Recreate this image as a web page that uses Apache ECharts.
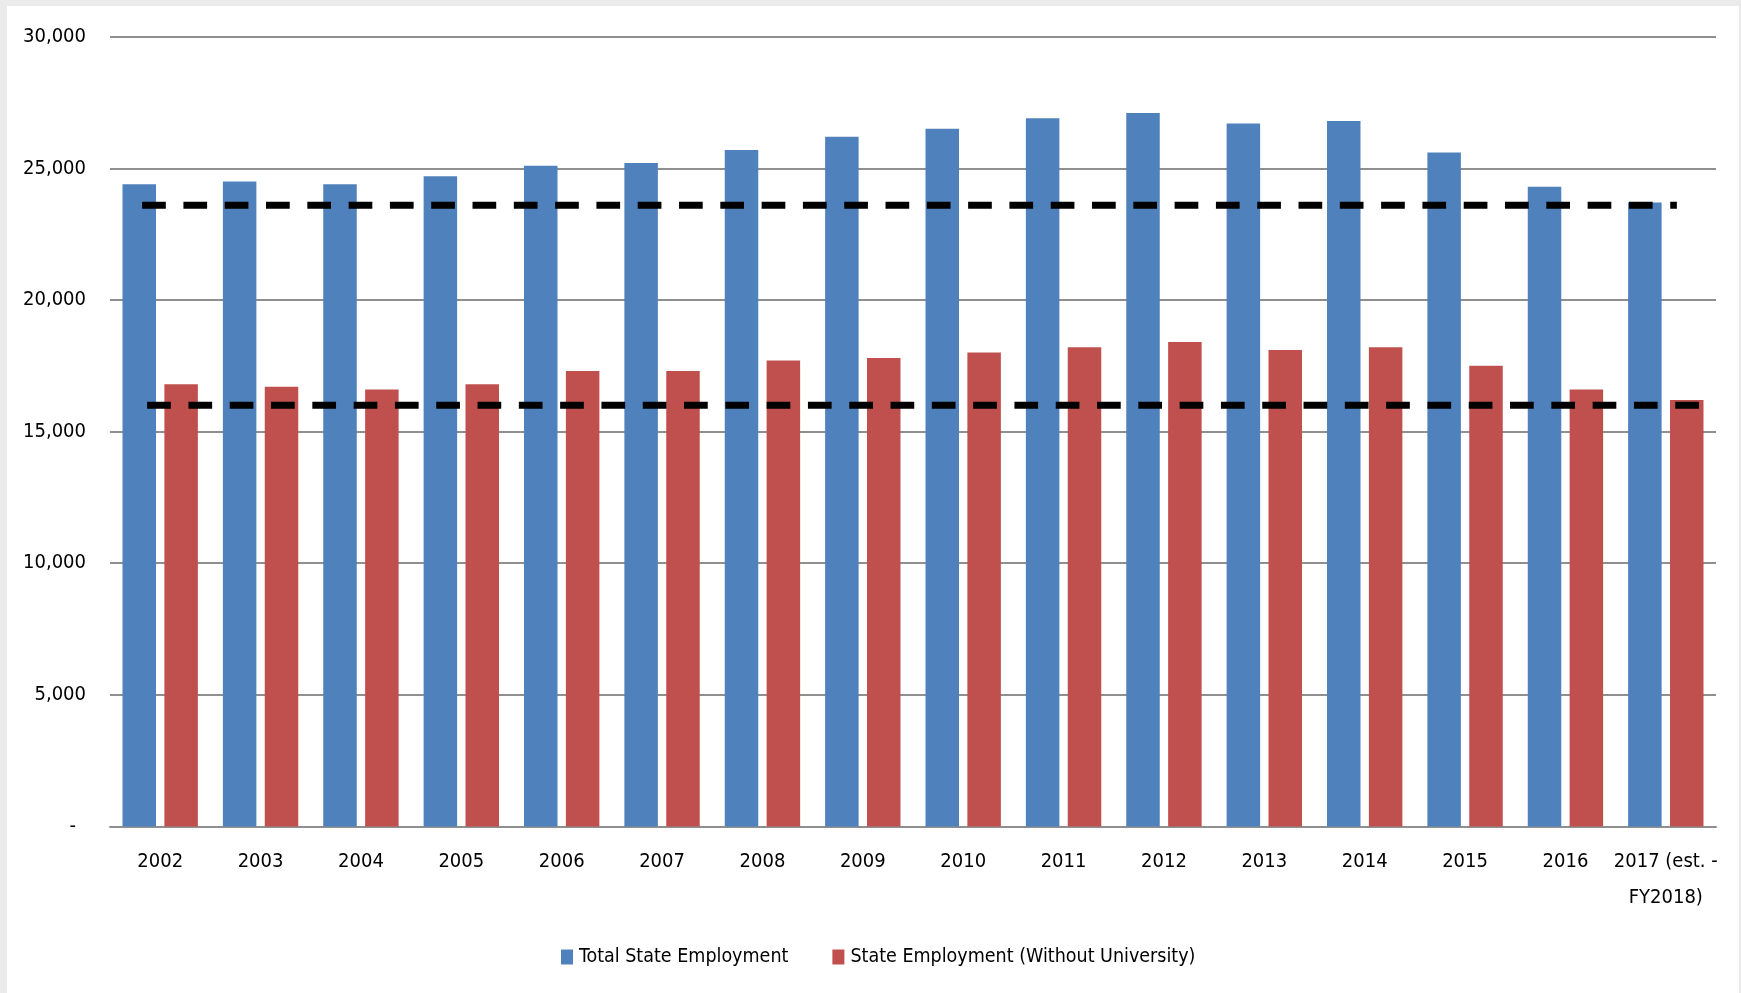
<!DOCTYPE html>
<html>
<head>
<meta charset="utf-8">
<script src="https://cdn.jsdelivr.net/npm/echarts@6/dist/echarts.min.js"></script>
<style>
  html, body { margin: 0; padding: 0; background: #ebebeb; }
  #chart { position: absolute; left: 7px; top: 6px; width: 1732px; height: 987px; background: #fff; }
</style>
</head>
<body>
<div id="chart"></div>
<script>
const years = [
  "2002", "2003", "2004", "2005", "2006", "2007", "2008", "2009",
  "2010", "2011", "2012", "2013", "2014", "2015", "2016", "2017 (est. -\nFY2018)",
];
const totalEmployment = [
  24400, 24500, 24400, 24700, 25100, 25200, 25700, 26200,
  26500, 26900, 27100, 26700, 26800, 25600, 24300, 23700,
];
const withoutUniversity = [
  16800, 16700, 16600, 16800, 17300, 17300, 17700, 17800,
  18000, 18200, 18400, 18100, 18200, 17500, 16600, 16200,
];
const seriesNames = ["Total State Employment", "State Employment (Without University)"];

// dashed reference levels, span given in category-index units
const totalAvg = 23600;
const totalAvgSpan = [-0.18, 15.11];
const withoutAvg = 16000;
const withoutAvgSpan = [-0.13, 15.33];

const yMin = 0;
const yMax = 30000;
const yStep = 5000;

const font = '"Liberation Sans Narrow", "DejaVu Sans Condensed", sans-serif';
const fontSize = 20;
const gridColor = "#8f8f8f";

const fmt = (v) => (v === 0 ? "{z|-}" : v.toLocaleString("en-US"));

const dashLine = (level, span) => ({
  type: "line",
  xAxisIndex: 1,
  data: [[span[0], level], [span[1], level]],
  symbol: "none",
  silent: true,
  z: 5,
  lineStyle: { color: "#000", width: 7, type: [23.7, 17.6], cap: "butt" },
});

const chart = echarts.init(document.getElementById("chart"));
chart.setOption({
  animation: false,
  textStyle: { fontFamily: font },
  grid: { left: 103, right: 23, top: 30.7, bottom: 166.5, containLabel: false },
  legend: {
    data: seriesNames,
    left: 549,
    top: 936,
    icon: "rect",
    itemWidth: 12,
    itemHeight: 15,
    itemGap: 44,
    textStyle: { fontFamily: font, fontSize: 19.5, color: "#000", padding: [0, 0, 0, 1] },
  },
  xAxis: [
    {
      type: "category",
      data: years,
      axisLine: { lineStyle: { color: gridColor, width: 2 } },
      axisTick: { show: false },
      axisLabel: {
        interval: 0,
        margin: 17,
        color: "#000",
        fontFamily: font,
        fontSize: fontSize,
        lineHeight: 36,
      },
    },
    {
      type: "value",
      min: -0.5,
      max: 15.5,
      show: false,
    },
  ],
  yAxis: {
    type: "value",
    min: yMin,
    max: yMax,
    interval: yStep,
    axisLine: { show: false },
    axisTick: { show: false },
    splitLine: { lineStyle: { color: gridColor, width: 2 } },
    axisLabel: {
      margin: 24,
      color: "#000",
      fontFamily: font,
      fontSize: fontSize,
      formatter: fmt,
      rich: { z: { fontFamily: font, fontSize: fontSize, color: "#000", padding: [0, 10, 0, 0] } },
    },
  },
  series: [
    {
      name: seriesNames[0],
      type: "bar",
      data: totalEmployment,
      barWidth: 33.5,
      barGap: "25%",
      itemStyle: { color: "#4F81BD" },
    },
    {
      name: seriesNames[1],
      type: "bar",
      data: withoutUniversity,
      barWidth: 33.5,
      barGap: "25%",
      itemStyle: { color: "#C0504D" },
    },
    dashLine(totalAvg, totalAvgSpan),
    dashLine(withoutAvg, withoutAvgSpan),
  ],
});
</script>
</body>
</html>
